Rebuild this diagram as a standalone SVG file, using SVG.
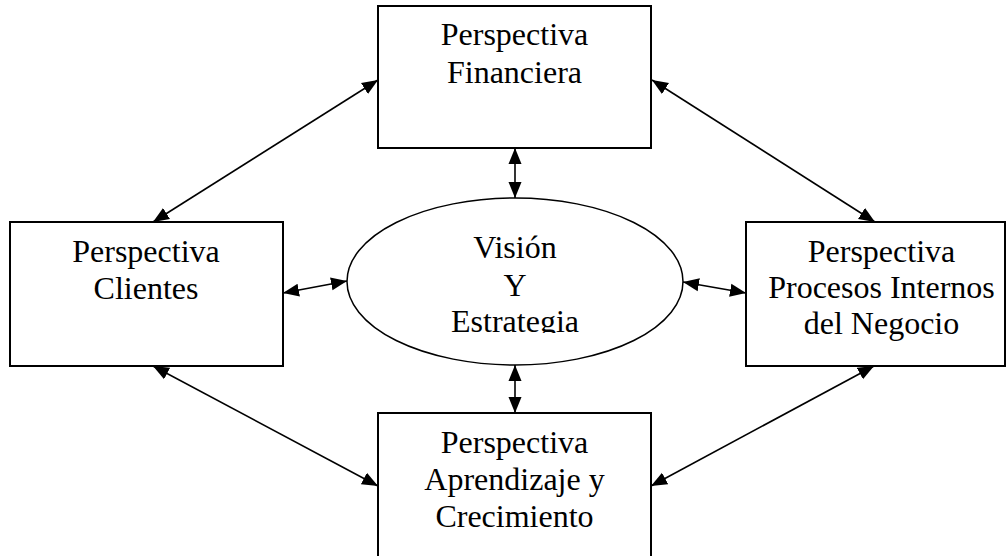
<svg xmlns="http://www.w3.org/2000/svg" width="1006" height="556" viewBox="0 0 1006 556">
<style>
.box{fill:#fff;stroke:#000;stroke-width:2}
.t{font-family:"Liberation Serif","Times New Roman",serif;font-size:32px;fill:#000;text-anchor:middle}
.c{stroke:#000;stroke-width:1.6;fill:none;marker-start:url(#ah);marker-end:url(#ah)}
</style>
<defs>
<marker id="ah" markerUnits="userSpaceOnUse" markerWidth="17" markerHeight="14" refX="16" refY="7" orient="auto-start-reverse">
<path d="M0,0.5 L16,7 L0,13.5 Z" fill="#000"/>
</marker>
<clipPath id="eclip"><rect x="300" y="190" width="430" height="143"/></clipPath>
</defs>
<rect width="1006" height="556" fill="#fff"/>
<g id="financiera">
<rect class="box" x="378" y="6" width="273" height="142"/>
<text class="t" x="514.5" y="45">Perspectiva</text>
<text class="t" x="514.5" y="83">Financiera</text>
</g>
<g id="clientes">
<rect class="box" x="10" y="222" width="273" height="144"/>
<text class="t" x="146" y="262">Perspectiva</text>
<text class="t" x="146" y="299">Clientes</text>
</g>
<g id="procesos">
<rect class="box" x="746" y="222" width="259" height="144"/>
<text class="t" x="881.5" y="262">Perspectiva</text>
<text class="t" x="881.5" y="298">Procesos Internos</text>
<text class="t" x="881.5" y="334">del Negocio</text>
</g>
<g id="aprendizaje">
<rect class="box" x="378" y="413" width="273" height="160"/>
<text class="t" x="514.5" y="453">Perspectiva</text>
<text class="t" x="514.5" y="490">Aprendizaje y</text>
<text class="t" x="514.5" y="527">Crecimiento</text>
</g>
<g id="vision">
<ellipse cx="515" cy="281.5" rx="168" ry="83.5" fill="#fff" stroke="#000" stroke-width="1.5"/>
<g clip-path="url(#eclip)">
<text class="t" x="515" y="258">Visión</text>
<text class="t" x="515" y="296">Y</text>
<text class="t" x="515" y="332">Estrategia</text>
</g>
</g>
<g id="connectors">
<line class="c" x1="153" y1="222" x2="378" y2="80"/>
<line class="c" x1="652" y1="80" x2="875" y2="222"/>
<line class="c" x1="515" y1="148" x2="515" y2="198"/>
<line class="c" x1="283" y1="293" x2="347" y2="281"/>
<line class="c" x1="683" y1="282" x2="746" y2="293"/>
<line class="c" x1="515" y1="365" x2="515" y2="413"/>
<line class="c" x1="153" y1="366" x2="378" y2="486"/>
<line class="c" x1="874" y1="366" x2="651" y2="486"/>
</g>
</svg>
